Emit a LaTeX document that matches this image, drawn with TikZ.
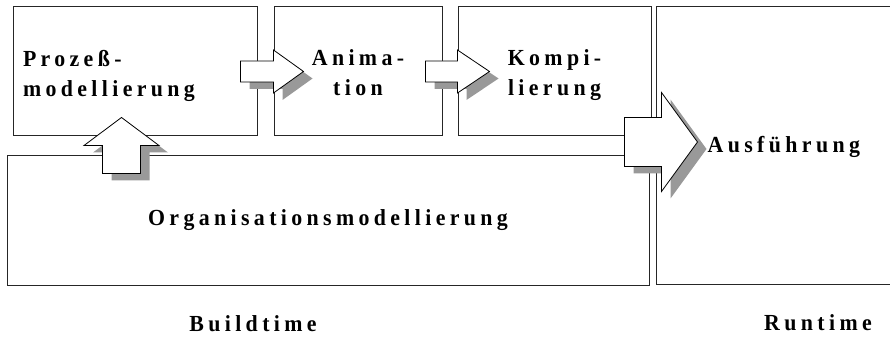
\documentclass[tikz,border=0pt]{standalone}
\usepackage{fontspec}
\setmainfont{Liberation Serif}
\newfontfamily\boxfont[LetterSpace=19,FakeStretch=0.95]{Liberation Serif}
\usetikzlibrary{positioning, calc}

% block arrow: tail, direction, length, half shaft, half head, head length
\newcommand{\blockarrow}[6]{%
  \fill[arrshade, shift={($(#1)+(9,-7)$)}, rotate=#2]
    (0,-#4) -- ({#3-#6},-#4) -- ({#3-#6},-#5) -- (#3,0)
    -- ({#3-#6},#5) -- ({#3-#6},#4) -- (0,#4) -- cycle;
  \draw[arrbody, shift={(#1)}, rotate=#2]
    (0,-#4) -- ({#3-#6},-#4) -- ({#3-#6},-#5) -- (#3,0)
    -- ({#3-#6},#5) -- ({#3-#6},#4) -- (0,#4) -- cycle;
}

\begin{document}
\begin{tikzpicture}[
    x=1pt, y=1pt,
    box/.style={draw=black!85, line width=1pt, fill=white, inner sep=0pt, minimum height=129pt},
    lbl/.style={font=\boxfont\bfseries\fontsize{23}{30}\selectfont, inner sep=0pt},
    arrbody/.style={draw=black, line width=0.8pt, fill=white, line join=miter},
    arrshade/.style={fill=black!40}
]
\useasboundingbox (0,0) rectangle (890,340);

\node[box, lbl, minimum width=244pt, text width=224pt, align=left, text depth=27pt] (proz) at (135,268.5) {Prozeß-\\modellierung};
\node[box, lbl, minimum width=168pt, text width=160pt, align=center, text depth=27pt] (anim) [right=16pt of proz] {Anima-\\tion};
\node[box, lbl, minimum width=193pt, text width=185pt, align=center, text depth=27pt] (komp) [right=15pt of anim] {Kompi-\\lierung};
\node[box, minimum width=236pt, minimum height=277pt] (run) [right=4pt of komp.north east, anchor=north west] {};
\node[box, lbl, minimum width=642pt] (org) [below=19pt of proz.south west, anchor=north west, xshift=-6pt] {Organisationsmodellierung};

\coordinate (t1) at ([xshift=-17pt]proz.east);
\coordinate (t2) at ([xshift=-17pt]anim.east);
\coordinate (t3) at ([xshift=-25pt, yshift=13.5pt]org.north east);
\coordinate (t4) at ([xshift=115pt, yshift=-18pt]org.north west);

\blockarrow{t1}{0}{63}{10.5}{21.5}{30}
\blockarrow{t2}{0}{64}{10.5}{21.5}{32}
\blockarrow{t3}{0}{73}{24.5}{49.5}{36}
\blockarrow{t4}{90}{56}{19}{37.5}{28}

\node[lbl] (ausf) [right=52pt of run.west, yshift=-1.5pt] {Ausführung};
\node[lbl] (build) [below=30pt of org.south, xshift=-75pt] {Buildtime};
\node[lbl] (runt) [below=30pt of run.south, xshift=44pt] {Runtime};

\end{tikzpicture}
\end{document}
